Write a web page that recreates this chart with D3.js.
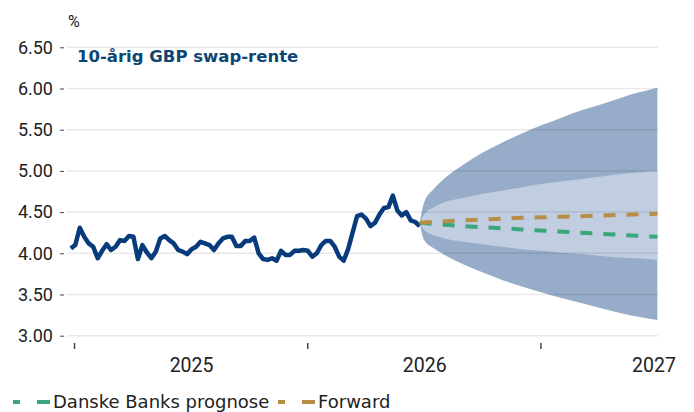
<!DOCTYPE html>
<html>
<head>
<meta charset="utf-8">
<script src="https://cdn.jsdelivr.net/npm/d3@7"></script>
<style>
  body { margin: 0; background: #fff; }
  svg { display: block; font-family: "DejaVu Sans", sans-serif; }
  .num { font-family: Roboto, sans-serif; }
</style>
</head>
<body>
<svg width="694" height="412"></svg>
<script>
// 10-year GBP swap rate: weekly history + 12m forecast bands

const histStart = "2024-06-26";
const histValues = [
    4.06, 4.10, 4.31, 4.20, 4.12, 4.08, 3.94, 4.03, 4.11, 4.04,
    4.08, 4.16, 4.15, 4.21, 4.20, 3.93, 4.10, 4.01, 3.94, 4.02,
    4.18, 4.21, 4.16, 4.12, 4.04, 4.02, 3.99, 4.05, 4.08, 4.14,
    4.12, 4.10, 4.04, 4.12, 4.18, 4.20, 4.20, 4.09, 4.09, 4.15,
    4.15, 4.19, 4.00, 3.93, 3.92, 3.94, 3.91, 4.03, 3.98, 3.98,
    4.03, 4.03, 4.04, 4.03, 3.96, 4.00, 4.10, 4.15, 4.15, 4.08,
    3.96, 3.91, 4.05, 4.25, 4.45, 4.47, 4.42, 4.33, 4.37, 4.47,
    4.55, 4.56, 4.70, 4.52, 4.46, 4.50, 4.40, 4.38, 4.33
];

const bandDates = [
    "2025-12-24", "2025-12-31", "2026-01-15", "2026-02-01", "2026-03-01",
    "2026-04-01", "2026-05-01", "2026-06-01", "2026-07-01", "2026-08-01",
    "2026-09-01", "2026-10-01", "2026-11-01", "2026-12-01", "2026-12-31"
];
const outerUpper = [4.37, 4.62, 4.78, 4.91, 5.07, 5.22, 5.34, 5.45, 5.55, 5.64, 5.73, 5.80, 5.88, 5.95, 6.01];
const outerLower = [4.37, 4.16, 4.06, 3.98, 3.87, 3.77, 3.68, 3.60, 3.53, 3.46, 3.40, 3.34, 3.28, 3.23, 3.19];
const innerUpper = [4.37, 4.47, 4.56, 4.62, 4.67, 4.72, 4.76, 4.80, 4.84, 4.87, 4.90, 4.93, 4.96, 4.98, 5.00];
const innerLower = [4.37, 4.28, 4.22, 4.18, 4.14, 4.11, 4.08, 4.05, 4.03, 4.01, 3.99, 3.97, 3.95, 3.94, 3.92];

const fcDates = ["2025-12-24", "2026-03-01", "2026-06-01", "2026-09-01", "2026-12-31"];
const danske = [4.37, 4.33, 4.29, 4.25, 4.20];
const forward = [4.37, 4.40, 4.43, 4.45, 4.48];

const yTicks = [3.0, 3.5, 4.0, 4.5, 5.0, 5.5, 6.0, 6.5];
const yearLabels = ["2025", "2026", "2027"];
const tickDates = ["2024-07-01", "2025-07-01", "2026-07-01"];

const parse = d3.timeParse("%Y-%m-%d");
const svg = d3.select("svg");

const left = 67, right = 658;
const x = d3.scaleTime()
    .domain([parse("2024-06-20"), parse("2027-01-01")])
    .range([left, right]);
const y = d3.scaleLinear().domain([3, 6.5]).range([335.7, 47.3]);

const hist = histValues.map((v, i) => ({date: d3.timeWeek.offset(parse(histStart), i), v}));
const bands = bandDates.map((d, i) => ({
    date: parse(d), ou: outerUpper[i], ol: outerLower[i], iu: innerUpper[i], il: innerLower[i]
}));
const fc = fcDates.map((d, i) => ({date: parse(d), danske: danske[i], forward: forward[i]}));

// bands
svg.append("path")
    .datum(bands)
    .attr("fill", "#97acc8")
    .attr("d", d3.area().x(d => x(d.date)).y0(d => y(d.ol)).y1(d => y(d.ou)).curve(d3.curveMonotoneX));
svg.append("path")
    .datum(bands)
    .attr("fill", "#c1cde0")
    .attr("d", d3.area().x(d => x(d.date)).y0(d => y(d.il)).y1(d => y(d.iu)).curve(d3.curveMonotoneX));

// gridlines on top, a bit transparent so they show through the bands
svg.append("g")
    .selectAll("line")
    .data(yTicks)
    .join("line")
    .attr("x1", left).attr("x2", right)
    .attr("y1", d => y(d)).attr("y2", d => y(d))
    .attr("stroke", "rgba(0,0,0,0.09)")
    .attr("stroke-width", 1.5);

// y axis
const yAxis = svg.append("g")
    .attr("transform", "translate(64,0)")
    .call(d3.axisLeft(y).tickValues(yTicks).tickSize(4).tickPadding(7).tickFormat(d3.format(".2f")));
yAxis.select(".domain").remove();
yAxis.selectAll("line").attr("stroke", "#444");
yAxis.selectAll("text")
    .attr("class", "num")
    .attr("font-size", 18).attr("fill", "#222").attr("font-family", null);

// x axis: marks at mid-year, year labels at Jan 1
const xAxis = svg.append("g")
    .attr("transform", "translate(0,343)")
    .call(d3.axisBottom(x).tickValues(tickDates.map(parse)).tickSize(6).tickFormat(""));
xAxis.select(".domain").remove();
xAxis.selectAll("line").attr("stroke", "#444").attr("stroke-width", 1.5);

svg.append("g")
    .selectAll("text")
    .data(yearLabels)
    .join("text")
    .attr("class", "num")
    .attr("x", (d, i) => Math.min(x(parse(d + "-01-01")), 654))
    .attr("y", 372)
    .attr("text-anchor", "middle")
    .attr("font-size", 19.5)
    .attr("fill", "#222")
    .text(d => d);

// history line
svg.append("path")
    .datum(hist)
    .attr("fill", "none")
    .attr("stroke", "#073b7c")
    .attr("stroke-width", 4.5)
    .attr("stroke-linejoin", "round")
    .attr("d", d3.line().x(d => x(d.date)).y(d => y(d.v)));

// forecasts
const dash = "12,11";
svg.append("path")
    .datum(fc)
    .attr("fill", "none")
    .attr("stroke", "#3aa67b")
    .attr("stroke-width", 4)
    .attr("stroke-dasharray", dash)
    .attr("d", d3.line().x(d => x(d.date)).y(d => y(d.danske)));
svg.append("path")
    .datum(fc)
    .attr("fill", "none")
    .attr("stroke", "#b88e47")
    .attr("stroke-width", 4)
    .attr("stroke-dasharray", dash)
    .attr("d", d3.line().x(d => x(d.date)).y(d => y(d.forward)));

// title and unit
svg.append("text")
    .attr("x", 77).attr("y", 62)
    .attr("font-size", 16.5).attr("font-weight", "bold")
    .attr("fill", "#0d4672")
    .text("10-årig GBP swap-rente");
svg.append("text")
    .attr("class", "num")
    .attr("x", 68).attr("y", 27)
    .attr("font-size", 16).attr("fill", "#222")
    .text("%");

// legend
const legend = [
    {label: "Danske Banks prognose", color: "#3aa67b", x: 13},
    {label: "Forward", color: "#b88e47", x: 278}
];
const lg = svg.append("g")
    .selectAll("g")
    .data(legend)
    .join("g")
    .attr("transform", d => `translate(${d.x},402)`);
lg.append("line")
    .attr("x1", 0).attr("x2", 37)
    .attr("stroke", d => d.color)
    .attr("stroke-width", 4)
    .attr("stroke-dasharray", "7,17,13");
lg.append("text")
    .attr("x", 40).attr("y", 6)
    .attr("font-size", 18).attr("fill", "#222")
    .text(d => d.label);
</script>
</body>
</html>
